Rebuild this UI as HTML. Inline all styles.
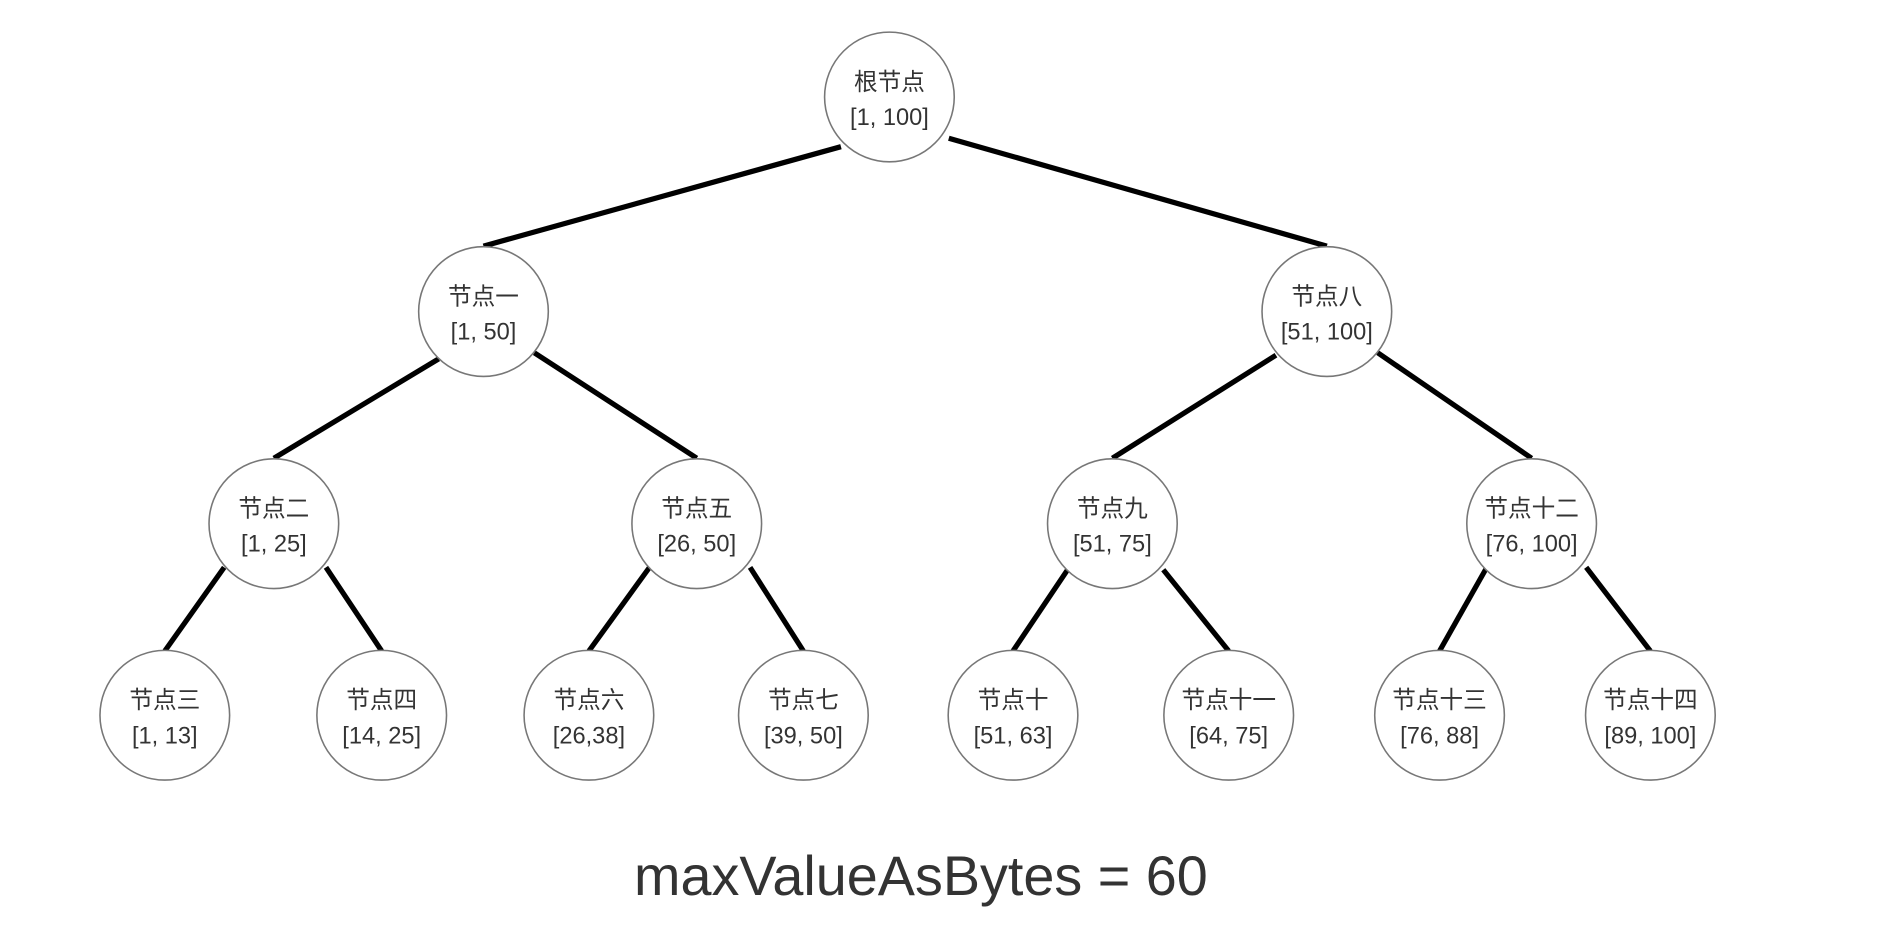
<!DOCTYPE html>
<html><head><meta charset="utf-8"><style>
html,body{margin:0;padding:0;background:#fff;}
svg{display:block;}
text{font-family:"Liberation Sans","Noto Sans CJK SC",sans-serif;fill:#333;text-anchor:middle;dominant-baseline:middle;}
</style></head><body>
<svg width="1900" height="948" viewBox="0 0 1568 782" preserveAspectRatio="none" xmlns="http://www.w3.org/2000/svg">
<g stroke="#000" stroke-width="4.3" stroke-linecap="butt">
<line x1="694" y1="121" x2="399" y2="203"/>
<line x1="783" y1="114" x2="1095" y2="203"/>
<line x1="362" y1="296" x2="226" y2="378"/>
<line x1="441" y1="291" x2="575" y2="378"/>
<line x1="1053" y1="293" x2="918" y2="378"/>
<line x1="1137" y1="291" x2="1264" y2="378"/>
<line x1="185" y1="468" x2="136" y2="537"/>
<line x1="269" y1="468" x2="315" y2="537"/>
<line x1="536" y1="468" x2="486" y2="537"/>
<line x1="619" y1="468" x2="663" y2="537"/>
<line x1="881" y1="470" x2="836" y2="537"/>
<line x1="960" y1="470" x2="1014" y2="537"/>
<line x1="1227" y1="468" x2="1188" y2="537"/>
<line x1="1309" y1="468" x2="1362" y2="537"/>
</g>
<g fill="#fff" stroke="#777" stroke-width="1.3">
<circle cx="734" cy="80" r="53.5"/>
<circle cx="399" cy="257" r="53.5"/>
<circle cx="1095" cy="257" r="53.5"/>
<circle cx="226" cy="432" r="53.5"/>
<circle cx="575" cy="432" r="53.5"/>
<circle cx="918" cy="432" r="53.5"/>
<circle cx="1264" cy="432" r="53.5"/>
<circle cx="136" cy="590" r="53.5"/>
<circle cx="315" cy="590" r="53.5"/>
<circle cx="486" cy="590" r="53.5"/>
<circle cx="663" cy="590" r="53.5"/>
<circle cx="836" cy="590" r="53.5"/>
<circle cx="1014" cy="590" r="53.5"/>
<circle cx="1188" cy="590" r="53.5"/>
<circle cx="1362" cy="590" r="53.5"/>
</g>
<g font-size="19.5">
<text x="734" y="69">根节点</text><text x="734" y="98">[1, 100]</text>
<text x="399" y="246">节点一</text><text x="399" y="275">[1, 50]</text>
<text x="1095" y="246">节点八</text><text x="1095" y="275">[51, 100]</text>
<text x="226" y="421">节点二</text><text x="226" y="450">[1, 25]</text>
<text x="575" y="421">节点五</text><text x="575" y="450">[26, 50]</text>
<text x="918" y="421">节点九</text><text x="918" y="450">[51, 75]</text>
<text x="1264" y="421">节点十二</text><text x="1264" y="450">[76, 100]</text>
<text x="136" y="579">节点三</text><text x="136" y="608">[1, 13]</text>
<text x="315" y="579">节点四</text><text x="315" y="608">[14, 25]</text>
<text x="486" y="579">节点六</text><text x="486" y="608">[26,38]</text>
<text x="663" y="579">节点七</text><text x="663" y="608">[39, 50]</text>
<text x="836" y="579">节点十</text><text x="836" y="608">[51, 63]</text>
<text x="1014" y="579">节点十一</text><text x="1014" y="608">[64, 75]</text>
<text x="1188" y="579">节点十三</text><text x="1188" y="608">[76, 88]</text>
<text x="1362" y="579">节点十四</text><text x="1362" y="608">[89, 100]</text>
</g>
<text x="760" y="726" font-size="46">maxValueAsBytes = 60</text>
</svg>
</body></html>
